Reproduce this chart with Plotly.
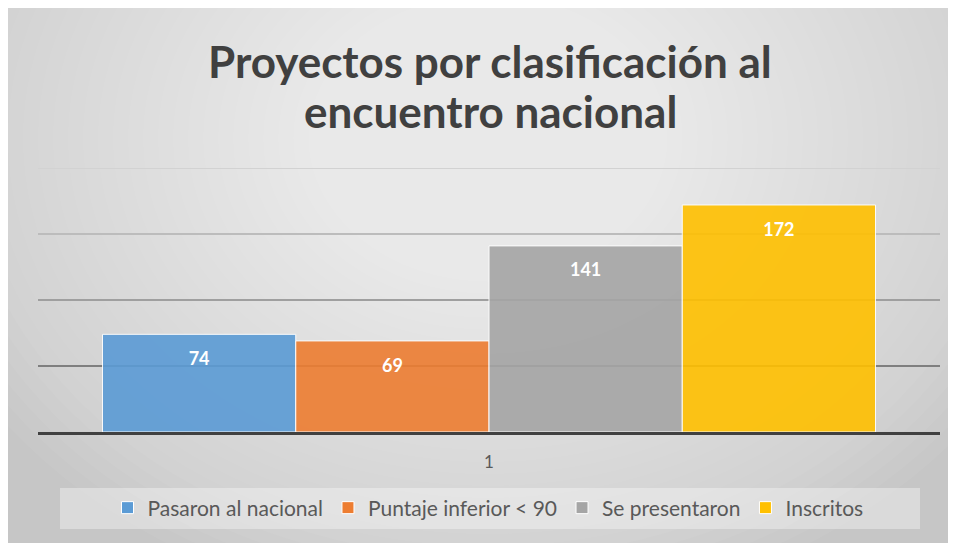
import plotly.graph_objects as go

# ---- data ----
category = ["1"]
series_names = ["Pasaron al nacional", "Puntaje inferior < 90", "Se presentaron", "Inscritos"]
series_values = [74, 69, 141, 172]
series_colors = ["#5b9bd5", "#ed7d31", "#a5a5a5", "#ffc000"]
grid_values = [50, 100, 150, 200]
grid_colors = ["#7f7f7f", "#9f9f9f", "#bcbcbc", "#d2d2d2"]
title_lines = ["Proyectos por clasificación al", "encuentro nacional"]

W, H = 956, 543
L, R, T, B = 30, 24, 160, 119
pw, ph = W - L - R, H - T - B

def px(x):
    return (x - L) / pw

def py(y):
    return (H - B - y) / ph

fig = go.Figure()
for name, val, col in zip(series_names, series_values, series_colors):
    fig.add_trace(go.Bar(
        x=category, y=[val], name=name,
        marker=dict(color=col, opacity=0.9, line=dict(color="#ffffff", width=1)),
        text=[val],
        texttemplate="&nbsp;<br><span style='font-size:18px'><b>%{text}</b></span>",
        textposition="inside", insidetextanchor="end",
        textfont=dict(color="#ffffff", size=12, family="Lato"),
        hoverinfo="skip",
    ))

shapes = []
shapes.append(dict(type="rect", xref="paper", yref="paper", layer="below",
                   x0=px(0), x1=px(W), y0=py(H), y1=py(0),
                   fillcolor="#c6c6c6", line=dict(width=0)))
cx, cy = 480, 130
n = 40
for i in range(n):
    f = 1 - i / n
    rx, ry = 600 * f, 480 * f
    shapes.append(dict(type="circle", xref="paper", yref="paper", layer="below",
                       x0=px(cx - rx), x1=px(cx + rx), y0=py(cy + ry), y1=py(cy - ry),
                       fillcolor="rgba(255,255,255,0.042)", line=dict(width=0)))
shapes.append(dict(type="rect", xref="paper", yref="paper", layer="below",
                   x0=px(52), x1=px(912), y0=py(521), y1=py(480),
                   fillcolor="rgba(255,255,255,0.35)", line=dict(width=0)))
for gv, gc in zip(grid_values, grid_colors):
    shapes.append(dict(type="line", xref="paper", yref="y", layer="below",
                       x0=0, x1=1, y0=gv, y1=gv, line=dict(color=gc, width=2)))

annotations = []
for line, yc in zip(title_lines, [53, 103]):
    annotations.append(dict(text="<b>" + line + "</b>", xref="paper", yref="paper",
                            x=px(482), y=py(yc), xanchor="center", yanchor="middle",
                            showarrow=False,
                            font=dict(family="Lato", size=44, color="#404040")))

fig.update_layout(
    width=W, height=H,
    margin=dict(l=L, r=R, t=T, b=B),
    paper_bgcolor="#ffffff", plot_bgcolor="rgba(0,0,0,0)",
    barmode="group", bargap=0.143, bargroupgap=0,
    shapes=shapes, annotations=annotations,
    font=dict(family="Lato", color="#595959"),
    xaxis=dict(showgrid=False, showline=True, linecolor="#404040", linewidth=3,
               ticks="", tickfont=dict(size=17, color="#595959"), ticklabelstandoff=13),
    yaxis=dict(range=[0, 200], showgrid=False, zeroline=False, showticklabels=False,
               ticks="", tickvals=grid_values),
    legend=dict(orientation="h", x=px(480), xanchor="center", y=py(500), yanchor="middle",
                font=dict(size=21, color="#595959"), bgcolor="rgba(0,0,0,0)",
                itemwidth=30, traceorder="normal"),
    showlegend=True,
)

fig.write_html("out.html")
